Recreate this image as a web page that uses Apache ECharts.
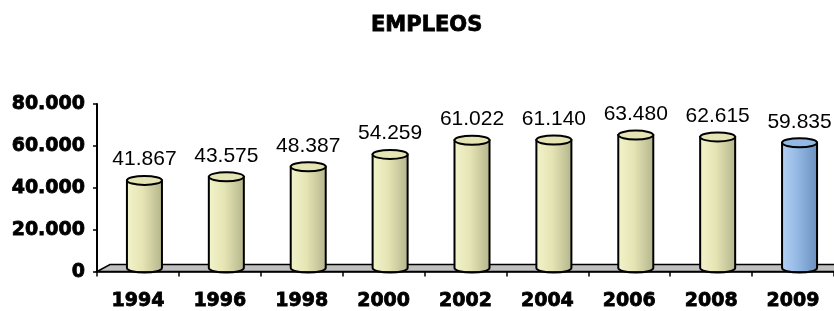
<!DOCTYPE html>
<html>
<head>
<meta charset="utf-8">
<script src="https://cdn.jsdelivr.net/npm/echarts@6/dist/echarts.min.js"></script>
<style>
  html, body { margin: 0; padding: 0; background: #fff; }
  #chart { width: 834px; height: 311px; }
</style>
</head>
<body>
<div id="chart"></div>
<script>
var years = ['1994', '1996', '1998', '2000', '2002', '2004', '2006', '2008', '2009'];
var empleos = [41867, 43575, 48387, 54259, 61022, 61140, 63480, 62615, 59835];
var valueLabels = ['41.867', '43.575', '48.387', '54.259', '61.022', '61.140', '63.480', '62.615', '59.835'];
var highlightYear = '2009';

// 3d look: depth of the floor, cylinder sits half way in
var depthX = 13, depthY = 7;
var yellow = ['#f4f4cc', '#e4e4b4', '#b4b48c'];
var blue = ['#b4d2f4', '#94b8e4', '#6a8ebc'];

function fmt(v) {
  return String(v).replace(/\B(?=(\d{3})+(?!\d))/g, '.');
}

function ellipsePath(cx, cy, rx, ry) {
  return 'M' + (cx - rx) + ' ' + cy +
    ' A' + rx + ' ' + ry + ' 0 1 0 ' + (cx + rx) + ' ' + cy +
    ' A' + rx + ' ' + ry + ' 0 1 0 ' + (cx - rx) + ' ' + cy + ' Z';
}

function renderCylinder(params, api) {
  var idx = api.value(0);
  var base = api.coord([idx, 0]);
  var top = api.coord([idx, api.value(1)]);
  var rx = 17.5, ry = 4.5;
  var cx = base[0] + depthX / 2;
  var by = base[1] - depthY / 2;
  var ty = top[1] - depthY / 2;
  var c = years[idx] === highlightYear ? blue : yellow;
  var grad = new echarts.graphic.LinearGradient(0, 0, 1, 0, [
    { offset: 0, color: c[0] },
    { offset: 0.45, color: c[1] },
    { offset: 1, color: c[2] }
  ]);
  var body = 'M' + (cx - rx) + ' ' + ty +
    ' L' + (cx - rx) + ' ' + by +
    ' A' + rx + ' ' + ry + ' 0 0 0 ' + (cx + rx) + ' ' + by +
    ' L' + (cx + rx) + ' ' + ty + ' Z';
  return {
    type: 'group',
    children: [
      {
        type: 'path',
        shape: { pathData: body },
        style: { fill: grad, stroke: '#000', lineWidth: 2 }
      },
      {
        type: 'path',
        shape: { pathData: ellipsePath(cx, ty, rx, ry) },
        style: { fill: c[1], stroke: '#000', lineWidth: 2 }
      },
      {
        type: 'text',
        x: cx,
        y: ty - 21,
        style: {
          text: valueLabels[idx],
          align: 'center',
          verticalAlign: 'middle',
          fill: '#000',
          font: '21px "Liberation Sans", Arial, sans-serif'
        }
      }
    ]
  };
}

function renderFloor(params, api) {
  var cs = params.coordSys;
  var x0 = cs.x, x1 = cs.x + cs.width, y0 = cs.y + cs.height;
  return {
    type: 'polygon',
    shape: {
      points: [[x0, y0], [x1, y0], [x1 + depthX, y0 - depthY], [x0 + depthX, y0 - depthY]]
    },
    style: { fill: '#c0c0c0', stroke: '#000', lineWidth: 1.5 }
  };
}

var chart = echarts.init(document.getElementById('chart'));
var boldFont = {
  fontFamily: '"DejaVu Sans", sans-serif', fontWeight: 'bold', fontSize: 19, color: '#000',
  textBorderColor: '#000', textBorderWidth: 0.8
};

chart.setOption({
  animation: false,
  title: {
    text: 'EMPLEOS',
    left: 371,
    top: 15,
    padding: 0,
    textStyle: {
      fontFamily: '"DejaVu Sans", sans-serif', fontWeight: 'bold', fontSize: 21, color: '#000',
      textBorderColor: '#000', textBorderWidth: 0.8
    }
  },
  grid: { left: 97, top: 104, width: 738, bottom: 38, containLabel: false },
  xAxis: {
    type: 'category',
    data: years,
    z: 10,
    axisLine: { lineStyle: { color: '#000', width: 1.5 } },
    axisTick: { show: true, length: 5, lineStyle: { color: '#000', width: 1.5 } },
    axisLabel: Object.assign({ margin: 20 }, boldFont),
    splitLine: { show: false }
  },
  yAxis: {
    type: 'value',
    min: 0,
    max: 80000,
    interval: 20000,
    z: 10,
    axisLine: { show: true, lineStyle: { color: '#000', width: 2 } },
    axisTick: { show: true, length: 4, lineStyle: { color: '#000', width: 1.5 } },
    axisLabel: Object.assign({ margin: 12, formatter: fmt }, boldFont),
    splitLine: { show: false }
  },
  series: [
    {
      type: 'custom',
      renderItem: renderFloor,
      data: [[0, 0]],
      z: 1,
      silent: true
    },
    {
      type: 'custom',
      renderItem: renderCylinder,
      encode: { x: 0, y: 1 },
      data: empleos.map(function (v, i) { return [i, v]; }),
      z: 5
    }
  ]
});
</script>
</body>
</html>
